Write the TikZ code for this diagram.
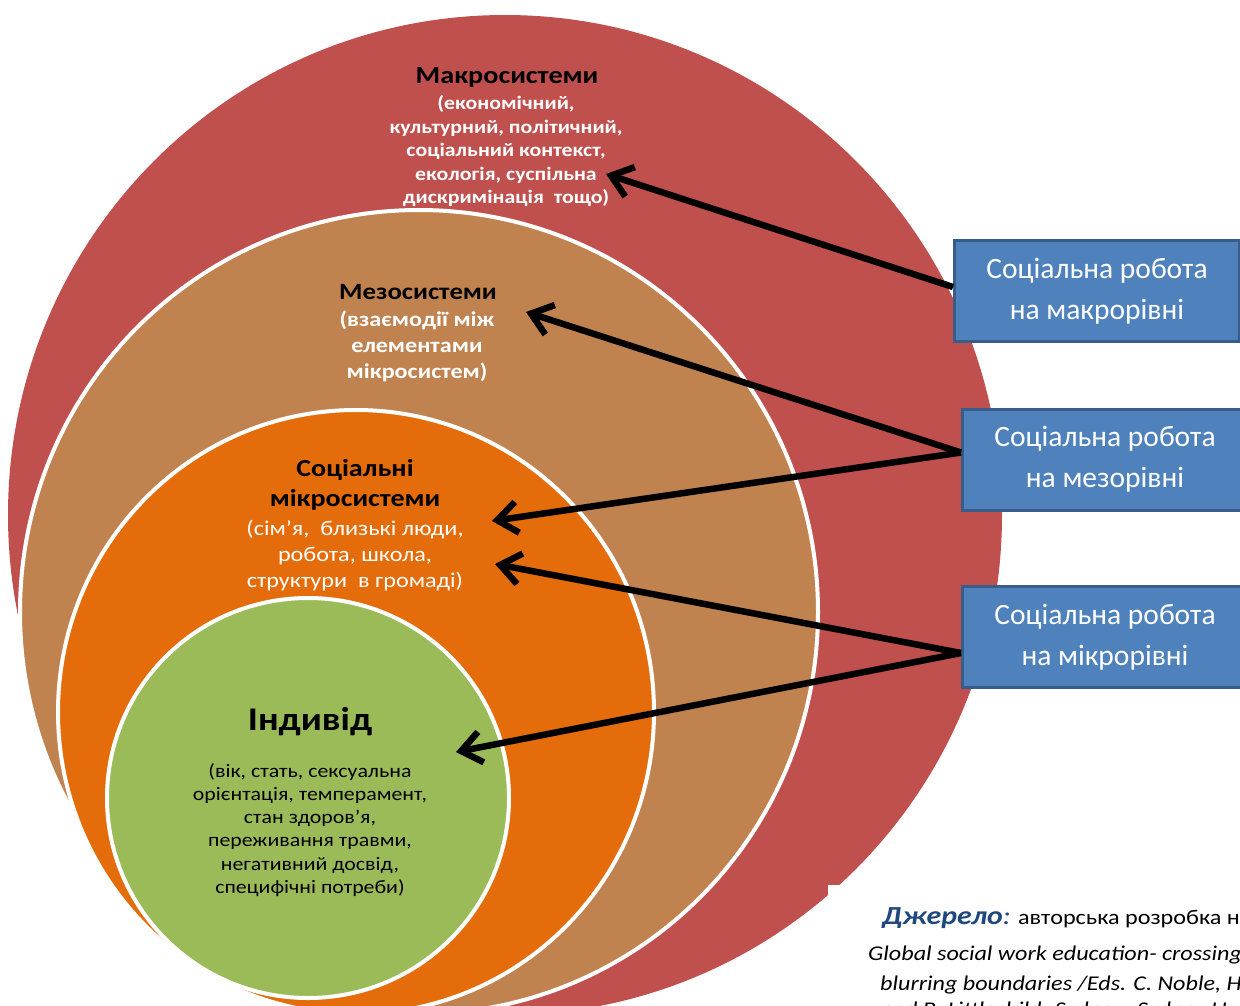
\documentclass[tikz,border=0pt]{standalone}
\usepackage{fontspec}
\setmainfont{Carlito}
\newfontfamily\widefont{Carlito}[FakeStretch=1.15]
\usetikzlibrary{arrows.meta}

\definecolor{macrored}{HTML}{C0504D}
\definecolor{mesotan}{HTML}{C0824F}
\definecolor{microorange}{HTML}{E46C0A}
\definecolor{indgreen}{HTML}{9BBB59}
\definecolor{boxblue}{HTML}{4F81BD}
\definecolor{boxedge}{HTML}{385D8A}
\definecolor{srcblue}{HTML}{1F497D}

\tikzset{
  ring/.style={draw=white, line width=4pt},
  levelbox/.style={draw=boxedge, fill=boxblue, line width=3pt, text=white,
    minimum width=285pt, minimum height=101pt, inner sep=0pt, align=center,
    font=\fontsize{29.5}{41}\selectfont},
  head/.style={align=center, text=black, inner sep=0pt},
  body/.style={align=center, inner sep=0pt},
  ptr/.style={black, line width=6.5pt, ->, >={Straight Barb[length=20pt,width=31pt]}},
  srcline/.style={anchor=base west, inner sep=0pt, font=\widefont\fontsize{21}{25}\selectfont}
}

\begin{document}
\begin{tikzpicture}[x=1pt,y=-1pt]
\useasboundingbox (0,0) rectangle (1240,1005);
\clip (0,0) rectangle (1240,1005);

% nested systems
\fill[macrored] (505,515) ellipse [x radius=497, y radius=500];
\filldraw[fill=mesotan, ring] (419,612) ellipse [x radius=399, y radius=402];
\filldraw[fill=microorange, ring] (356,712) ellipse [x radius=298, y radius=302];
\filldraw[fill=indgreen, ring] (308,798) ellipse [x radius=201, y radius=200];

% texts in the circles
\node[head, font=\widefont\bfseries\fontsize{24.5}{28}\selectfont] (macrotitle) at (507,77) {Макросистеми};
\node[body, text=white, font=\widefont\bfseries\fontsize{19}{23.5}\selectfont] (macrotext) at (506,151)
  {(економічний,\\культурний, політичний,\\соціальний контекст,\\екологія, суспільна\\дискримінація\ \ тощо)};

\node[head, font=\widefont\bfseries\fontsize{23.3}{26}\selectfont] (mesotitle) at (418,292) {Мезосистеми};
\node[body, text=white, font=\widefont\bfseries\fontsize{21}{26}\selectfont] (mesotext) at (417,346)
  {(взаємодії між\\елементами\\мікросистем)};

\node[head, font=\widefont\bfseries\fontsize{24.4}{30}\selectfont] (microtitle) at (355,485) {Соціальні\\мікросистеми};
\node[body, text=white, font=\widefont\fontsize{21}{26}\selectfont] (microtext) at (355,556)
  {(сім’я,\ \ близькі люди,\\робота, школа,\\структури\ \ в громаді)};

\node[head, font=\widefont\bfseries\fontsize{33}{36}\selectfont] (indtitle) at (310,722) {Індивід};
\node[body, text=black, font=\widefont\fontsize{19}{23.2}\selectfont] (indtext) at (310,830)
  {(вік, стать, сексуальна\\орієнтація, темперамент,\\стан здоров’я,\\переживання травми,\\негативний досвід,\\специфічні потреби)};

% levels of social work
\node[levelbox] (boxmacro) at (1097,291) {Соціальна робота\\на макрорівні};
\node[levelbox] (boxmeso) at (1105,459.5) {Соціальна робота\\на мезорівні};
\node[levelbox] (boxmicro) at (1105,637) {Соціальна робота\\на мікрорівні};

\coordinate (tipmacro) at (606,174);
\coordinate (tipmeso) at (526,312);
\coordinate (tipmicroa) at (492,521);
\coordinate (tipmicrob) at (495,564);
\coordinate (tipind) at (456,752);

\draw[ptr] ([yshift=4pt]boxmacro.west) -- (tipmacro);
\draw[ptr] ([yshift=7pt]boxmeso.west) -- (tipmeso);
\draw[ptr] ([yshift=7pt]boxmeso.west) -- (tipmicroa);
\draw[ptr] ([yshift=-16pt]boxmicro.west) -- (tipmicrob);
\draw[ptr] ([yshift=-16pt]boxmicro.west) -- (tipind);

% source
\fill[white] (828,885) rectangle (1240,1005);
\node[srcline] (srca) at (882,924) {\textcolor{srcblue}{\fontsize{26}{25}\selectfont\textbf{\textit{Джерело}}\textit{:}} авторська розробка на};
\node[srcline, font=\widefont\itshape\fontsize{21}{25}\selectfont] (srcb) at (868,960) {Global social work education- crossing};
\node[srcline, font=\widefont\itshape\fontsize{21}{25}\selectfont] (srcc) at (880,990) {blurring boundaries /Eds. C. Noble, H.};
\node[srcline, font=\widefont\itshape\fontsize{21}{25}\selectfont] (srcd) at (880,1016) {and B. Littlechild. Sydney: Sydney U};
\end{tikzpicture}
\end{document}
